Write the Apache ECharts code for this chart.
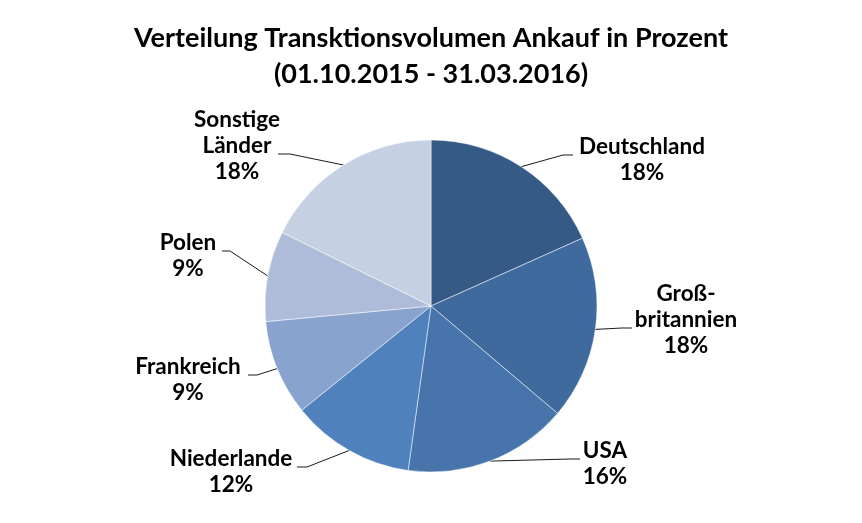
<!DOCTYPE html>
<html>
<head>
<meta charset="utf-8">
<script src="https://cdn.jsdelivr.net/npm/echarts@6/dist/echarts.min.js"></script>
<style>
html,body{margin:0;padding:0;background:#fff;}
#chart{width:862px;height:523px;}
</style>
</head>
<body>
<div id="chart"></div>
<script>
// ---- data ----
const titleLines = ['Verteilung Transktionsvolumen Ankauf in Prozent', '(01.10.2015 - 31.03.2016)'];
const categories = ['Deutschland', 'Groß-\nbritannien', 'USA', 'Niederlande', 'Frankreich', 'Polen', 'Sonstige\nLänder'];
const shares = [18.3, 17.9, 16.0, 12.0, 9.3, 8.8, 17.7];
const sliceColors = ['#355A86', '#3F6A9D', '#4775AB', '#4F81BD', '#88A3CE', '#AEBBD9', '#C6D0E3'];

// ---- label layout (text centre x, baseline y of attach line, attach line index, bend x, end x) ----
const labelCenterX = [642, 686, 605, 231, 188, 188, 237];
const labelBaseY   = [155, 328, 459, 467, 375, 251, 154];
const labelAttach  = [0, 1, 0, 0, 0, 0, 1];
const lineBendX    = [563, 622, 570, 307, 257, 230, 290];
const lineEndX     = [573, 632, 580, 297, 248, 222, 278];

const FONT = 'Lato, "Open Sans", sans-serif';
const LH = 26;
const BASE_OFF = 21;

const chart = echarts.init(document.getElementById('chart'), null, {renderer: 'canvas'});
chart.setOption({
  backgroundColor: '#ffffff',
  animation: false,
  title: {
    text: titleLines.join('\n'),
    left: 'center',
    top: 15,
    textStyle: {fontFamily: FONT, fontWeight: 'bold', fontSize: 27, lineHeight: 36, color: '#000'}
  },
  series: [{
    type: 'pie',
    center: [431, 306],
    radius: 166,
    startAngle: 90,
    clockwise: true,
    avoidLabelOverlap: false,
    itemStyle: {borderColor: 'rgba(255,255,255,0.7)', borderWidth: 0.7},
    label: {
      show: true,
      position: 'outside',
      formatter: p => p.name + '\n' + Math.round(p.value) + '%',
      fontFamily: FONT, fontWeight: 'bold', fontSize: 22.5, lineHeight: LH, color: '#000'
    },
    labelLine: {show: true, length: 10, length2: 10, lineStyle: {color: '#1a1a1a', width: 1}},
    labelLayout: function (params) {
      const i = params.dataIndex;
      const y = labelBaseY[i];
      const p0 = params.labelLinePoints ? params.labelLinePoints[0] : [lineBendX[i], y];
      return {
        x: labelCenterX[i],
        y: y - labelAttach[i] * LH - BASE_OFF,
        align: 'center',
        verticalAlign: 'top',
        labelLinePoints: [p0, [lineBendX[i], y], [lineEndX[i], y]]
      };
    },
    emphasis: {disabled: true},
    data: categories.map((c, i) => ({name: c, value: shares[i], itemStyle: {color: sliceColors[i]}}))
  }]
});
</script>
</body>
</html>
